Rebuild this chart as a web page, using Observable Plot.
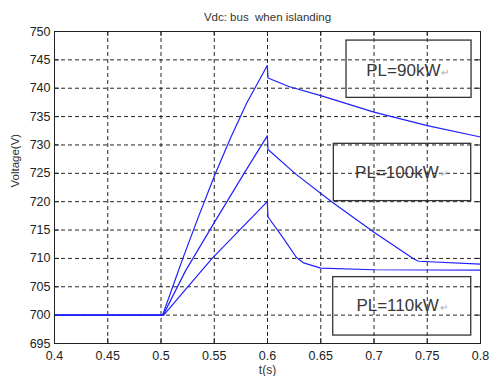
<!DOCTYPE html>
<html>
<head>
<meta charset="utf-8">
<script src="https://cdn.jsdelivr.net/npm/d3@7"></script>
<script src="https://cdn.jsdelivr.net/npm/@observablehq/plot@0.6"></script>
<style>
  html, body { margin: 0; padding: 0; background: #fff; }
  #chart { width: 490px; height: 376px; }
</style>
</head>
<body>
<div id="chart"></div>
<script>
// ---- data ----
const xTicks = [0.4, 0.45, 0.5, 0.55, 0.6, 0.65, 0.7, 0.75, 0.8];
const yTicks = [695, 700, 705, 710, 715, 720, 725, 730, 735, 740, 745, 750];

const time90  = [0.4, 0.5015, 0.511, 0.5205, 0.5355, 0.5505, 0.5655, 0.5805, 0.5998, 0.6005, 0.62, 0.65, 0.7, 0.75, 0.8];
const volt90  = [700, 700, 705, 710, 717.5, 724.7, 731.3, 737.4, 744, 741.8, 740.3, 738.7, 735.8, 733.4, 731.4];

const time100 = [0.4, 0.502, 0.523, 0.55, 0.578, 0.5998, 0.6005, 0.6263, 0.6608, 0.7, 0.7374, 0.742, 0.8];
const volt100 = [700, 700, 707.8, 716.3, 725, 731.6, 729.2, 724.9, 719.9, 714.6, 709.9, 709.5, 709.0];

const time110 = [0.4, 0.5025, 0.548, 0.5998, 0.6005, 0.614, 0.627, 0.634, 0.65, 0.7, 0.8];
const volt110 = [700, 700, 710, 720, 717.3, 713.8, 710.2, 709.2, 708.3, 708.0, 707.95];

const seriesNames = ["PL=90kW", "PL=100kW", "PL=110kW"];

// annotation boxes (data coordinates)
const noteLabels = ["PL=90kW", "PL=100kW", "PL=110kW"];
const noteX1 = [0.6742, 0.6623, 0.6617];
const noteX2 = [0.7916, 0.7913, 0.7913];
const noteY1 = [738.3, 720.1, 696.4];
const noteY2 = [748.4, 730.2, 706.7];
const noteTextX = [0.7624, 0.7608, 0.7608];
const noteTextY = [743.1, 725.2, 701.7];

const titleText = "Vdc: bus  when islanding";
const xLabel = "t(s)";
const yLabel = "Voltage(V)";

// ---- build tables ----
const lineData = [];
[[time90, volt90], [time100, volt100], [time110, volt110]].forEach(([ts, vs], i) => {
  ts.forEach((t, j) => lineData.push({t, v: vs[j], s: seriesNames[i]}));
});
const notes = noteLabels.map((label, i) => ({
  label, x1: noteX1[i], x2: noteX2[i], y1: noteY1[i], y2: noteY2[i], tx: noteTextX[i], ty: noteTextY[i]
}));

const xDom = [xTicks[0], xTicks[xTicks.length - 1]];
const yDom = [yTicks[0], yTicks[yTicks.length - 1]];
const tickLenX = (xDom[1] - xDom[0]) * 5 / 426;
const tickLenY = (yDom[1] - yDom[0]) * 5 / 312;

const gridStyle = {stroke: "#000", strokeOpacity: 0.85, strokeDasharray: "4,3", strokeWidth: 1};

const chart = Plot.plot({
  width: 490,
  height: 376,
  marginLeft: 54,
  marginRight: 10,
  marginTop: 31,
  marginBottom: 33,
  style: {fontFamily: "'Liberation Sans', Arial, sans-serif", background: "#fff", color: "#222"},
  x: {domain: xDom},
  y: {domain: yDom},
  marks: [
    Plot.ruleX(xTicks.slice(1, -1), gridStyle),
    Plot.ruleY(yTicks.slice(1, -1), gridStyle),
    // inside ticks on all sides
    Plot.ruleY(yTicks, {x1: xDom[0], x2: xDom[0] + tickLenX, stroke: "#222"}),
    Plot.ruleY(yTicks, {x1: xDom[1] - tickLenX, x2: xDom[1], stroke: "#222"}),
    Plot.ruleX(xTicks, {y1: yDom[0], y2: yDom[0] + tickLenY, stroke: "#222"}),
    Plot.ruleX(xTicks, {y1: yDom[1] - tickLenY, y2: yDom[1], stroke: "#222"}),
    Plot.line(lineData, {x: "t", y: "v", z: "s", stroke: "#1f1fff", strokeWidth: 1.2}),
    Plot.rect(notes, {x1: "x1", x2: "x2", y1: "y1", y2: "y2", fill: "none", stroke: "#333", strokeWidth: 1.3}),
    Plot.text(notes, {x: "tx", y: "ty", text: "label", textAnchor: "end", fontSize: 17, fill: "#383838", lineAnchor: "middle"}),
    Plot.text(notes, {x: "tx", y: "ty", text: () => "\u21B5", textAnchor: "start", dx: 1, dy: 2, fontSize: 10, fill: "#aaa", lineAnchor: "middle"}),
    Plot.frame({stroke: "#222", strokeWidth: 1}),
    Plot.axisX(xTicks, {tickSize: 0, tickPadding: 8, fontSize: 12.5, tickFormat: d => String(d), label: null}),
    Plot.axisY(yTicks, {tickSize: 0, tickPadding: 4, fontSize: 12.5, tickFormat: d => String(d), label: null}),
    Plot.text([titleText], {frameAnchor: "top", dy: -14, fontSize: 11.5, fill: "#333", lineAnchor: "middle"}),
    Plot.text([xLabel], {frameAnchor: "bottom", dy: 27, fontSize: 12, fill: "#333", lineAnchor: "middle"}),
    Plot.text([yLabel], {frameAnchor: "left", dx: -39, rotate: -90, fontSize: 11.5, fill: "#333", lineAnchor: "middle"})
  ]
});
document.getElementById("chart").appendChild(chart);
</script>
</body>
</html>
